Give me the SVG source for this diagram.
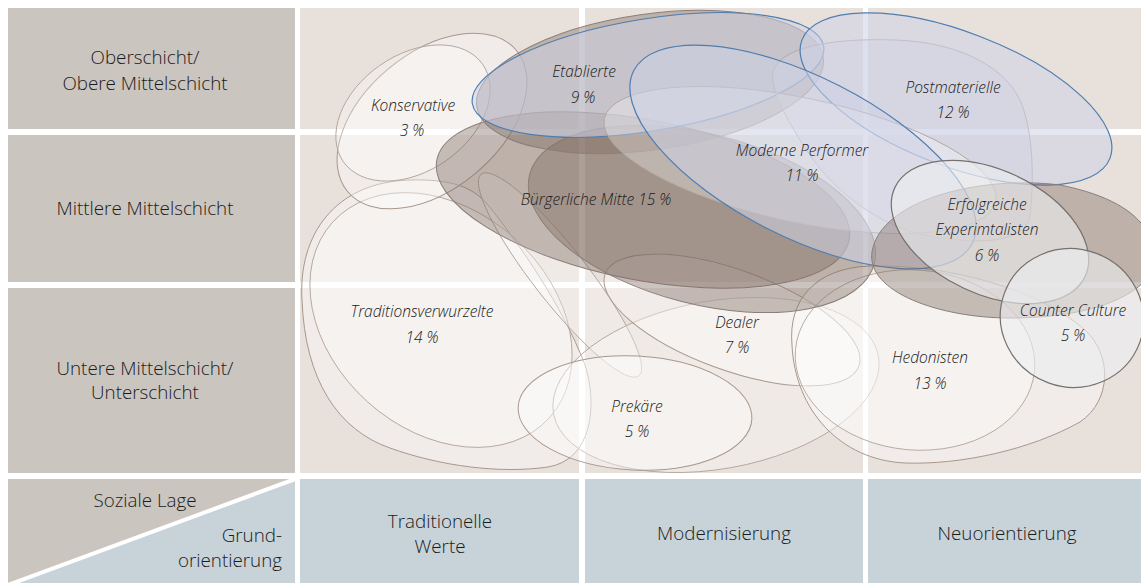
<svg xmlns="http://www.w3.org/2000/svg" width="1141" height="583" viewBox="0 0 1141 583">
<style>
.lbl{font-family:"Open Sans","Noto Sans","Liberation Sans",sans-serif;font-size:18.8px;font-weight:300;fill:#1a1a1a;text-anchor:middle}
.lr{text-anchor:end}
.m{font-family:"Open Sans","Noto Sans","Liberation Sans",sans-serif;font-size:15.5px;font-weight:300;font-style:italic;fill:#1a1a1a;text-anchor:middle}
.side{fill:#cbc5c0}
.cell{fill:#e8e1db}
.head{fill:#c8d3d9}
.light{fill:#ffffff;fill-opacity:.38;stroke:#a7988e;stroke-width:1}
.light2{fill:#ffffff;fill-opacity:.3;stroke:#b3a69d;stroke-width:.9}
.brown{fill:#7d6a5e;fill-opacity:.4;stroke:#8a7f79;stroke-width:1}
.blue{fill:#cdd1e6;fill-opacity:.55;stroke:#4f7db0;stroke-width:1.2}
.bluegrey{fill:#cdd0e2;fill-opacity:.35;stroke:#b2aaa6;stroke-width:1}
.grey{fill:#eceef1;fill-opacity:.6;stroke:#76716e;stroke-width:1.2}
</style>
<rect x="0" y="0" width="1141" height="583" fill="#ffffff"/>
<g id="grid">
<rect class="side" x="8" y="8" width="287" height="121"/>
<rect class="side" x="8" y="135" width="287" height="147"/>
<rect class="side" x="8" y="288" width="287" height="185"/>
<rect class="cell" x="300" y="8" width="279" height="121"/>
<rect class="cell" x="585" y="8" width="278" height="121"/>
<rect class="cell" x="868" y="8" width="273" height="121"/>
<rect class="cell" x="300" y="135" width="279" height="147"/>
<rect class="cell" x="585" y="135" width="278" height="147"/>
<rect class="cell" x="868" y="135" width="273" height="147"/>
<rect class="cell" x="300" y="288" width="279" height="185"/>
<rect class="cell" x="585" y="288" width="278" height="185"/>
<rect class="cell" x="868" y="288" width="273" height="185"/>
<rect class="side" x="8" y="479" width="287" height="104"/>
<polygon class="head" points="8,583 295,479 295,583"/>
<line x1="8" y1="585" x2="298" y2="478" stroke="#ffffff" stroke-width="4"/>
<rect class="head" x="300" y="479" width="279" height="104"/>
<rect class="head" x="585" y="479" width="278" height="104"/>
<rect class="head" x="868" y="479" width="273" height="104"/>
<text class="lbl" x="145" y="64">Oberschicht/</text>
<text class="lbl" x="145" y="90">Obere Mittelschicht</text>
<text class="lbl" x="145" y="215">Mittlere Mittelschicht</text>
<text class="lbl" x="145" y="375">Untere Mittelschicht/</text>
<text class="lbl" x="145" y="399">Unterschicht</text>
<text class="lbl" x="145" y="507">Soziale Lage</text>
<text class="lbl lr" x="282" y="542">Grund-</text>
<text class="lbl lr" x="282" y="567">orientierung</text>
<text class="lbl" x="440" y="528">Traditionelle</text>
<text class="lbl" x="440" y="553">Werte</text>
<text class="lbl" x="724" y="540">Modernisierung</text>
<text class="lbl" x="1007" y="540">Neuorientierung</text>
</g>
<g id="traditionsverwurzelte">
<path class="light" d="M 302,300 C 298,235 335,182 410,180 C 450,179 472,186 488,205 C 520,245 562,305 585,365 C 598,405 592,460 548,467 C 500,474 440,466 390,448 C 338,430 305,380 302,300 Z"/>
<ellipse class="light2" cx="441" cy="320" rx="146" ry="110" transform="rotate(42 441 320)"/>
<ellipse class="light2" cx="560" cy="275" rx="128" ry="27" transform="rotate(52 560 275)"/>
<text class="m" x="422" y="317">Traditionsverwurzelte</text>
<text class="m" x="422" y="343">14 %</text>
</g>
<g id="konservative">
<ellipse class="light" cx="432" cy="121" rx="110" ry="68" transform="rotate(-40 432 121)"/>
<ellipse class="light2" cx="413" cy="113" rx="85" ry="58" transform="rotate(-35 413 113)"/>
<text class="m" x="413" y="111">Konservative</text>
<text class="m" x="412" y="136">3 %</text>
</g>
<g id="prekaere">
<ellipse class="light2" cx="716" cy="385" rx="165" ry="84" transform="rotate(-10 716 385)"/>
<ellipse class="light" cx="635" cy="413" rx="117" ry="57" transform="rotate(3 635 413)"/>
<text class="m" x="637" y="412">Prekäre</text>
<text class="m" x="637" y="437">5 %</text>
</g>
<g id="dealer">
<ellipse class="light" cx="732" cy="320" rx="135" ry="50" transform="rotate(20 732 320)"/>
<text class="m" x="737" y="328">Dealer</text>
<text class="m" x="737" y="353">7 %</text>
</g>
<g id="hedonisten">
<path class="light" d="M 792,345 C 788,300 815,268 870,266 C 950,264 1040,290 1085,330 C 1112,355 1112,400 1080,422 C 1030,450 960,465 905,463 C 840,460 795,410 792,345 Z"/>
<ellipse class="light2" cx="915" cy="360" rx="120" ry="90" transform="rotate(5 915 360)"/>
<text class="m" x="930" y="363">Hedonisten</text>
<text class="m" x="930" y="389">13 %</text>
</g>
<g id="buergerliche-mitte">
<ellipse class="brown" cx="643" cy="200" rx="210" ry="80" transform="rotate(11 643 200)"/>
<ellipse class="brown" cx="702" cy="219" rx="178" ry="85" transform="rotate(14.5 702 219)"/>
<text class="m" x="596" y="205">Bürgerliche Mitte 15 %</text>
</g>
<g id="etablierte">
<ellipse class="brown" cx="650" cy="82" rx="175" ry="68" transform="rotate(-8 650 82)"/>
<ellipse class="blue" cx="648" cy="75" rx="178" ry="56" transform="rotate(-9.3 648 75)"/>
<text class="m" x="584" y="77">Etablierte</text>
<text class="m" x="583" y="103">9 %</text>
</g>
<g id="postmaterielle">
<path class="bluegrey" d="M 773,72 C 780,45 840,38 895,40 C 960,42 1008,68 1022,105 C 1035,140 1033,190 1030,215 C 1027,240 990,245 940,238 C 880,230 830,190 800,140 C 785,115 770,90 773,72 Z"/>
<ellipse class="blue" cx="956" cy="99" rx="165" ry="67" transform="rotate(21 956 99)"/>
<text class="m" x="953" y="93">Postmaterielle</text>
<text class="m" x="953" y="118">12 %</text>
</g>
<g id="moderne-performer">
<ellipse class="light2" cx="800" cy="160" rx="200" ry="62" transform="rotate(12 800 160)"/>
<ellipse class="blue" cx="803" cy="157" rx="190" ry="80" transform="rotate(27 803 157)"/>
<text class="m" x="802" y="156">Moderne Performer</text>
<text class="m" x="802" y="181">11 %</text>
</g>
<g id="erfolgreiche-experimentalisten">
<path class="brown" d="M 872,252 C 880,200 980,175 1060,185 C 1110,195 1135,212 1146,230 L 1146,280 C 1125,302 1080,318 1010,318 C 940,318 866,292 872,252 Z"/>
<ellipse class="grey" cx="990" cy="232" rx="105" ry="62" transform="rotate(25 990 232)"/>
<text class="m" x="987" y="210">Erfolgreiche</text>
<text class="m" x="987" y="235">Experimtalisten</text>
<text class="m" x="987" y="261">6 %</text>
</g>
<g id="counter-culture">
<ellipse class="grey" cx="1072" cy="318" rx="72" ry="69" transform="rotate(20 1072 318)"/>
<text class="m" x="1073" y="316">Counter Culture</text>
<text class="m" x="1073" y="341">5 %</text>
</g>
<g id="connectors"/>
</svg>
